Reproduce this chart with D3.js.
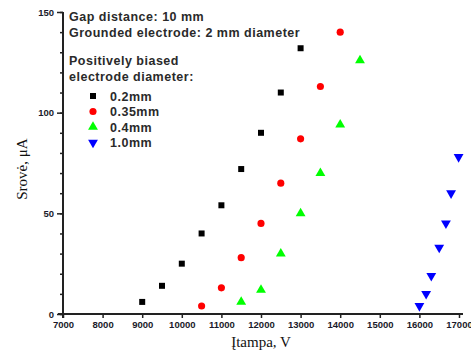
<!DOCTYPE html>
<html>
<head>
<meta charset="utf-8">
<script src="https://cdn.jsdelivr.net/npm/d3@7"></script>
<style>
  body { margin: 0; background: #fff; overflow: hidden; }
  svg { display: block; }
  .tick text { font-family: "Liberation Sans", Arial, sans-serif; font-size: 9.5px; font-weight: bold; fill: #1a1a2a; }
  .note { font-family: "Liberation Sans", Arial, sans-serif; font-size: 12.5px; font-weight: bold; letter-spacing: 0.5px; fill: #2a2a2a; }
  .title { font-family: "Liberation Serif", "Times New Roman", serif; font-size: 15px; fill: #111; }
</style>
</head>
<body>
<div class="chart"></div>
<script>
const width = 471;
const height = 356;

// voltage (V) and current (uA)
const v02 = [9000, 9500, 10000, 10500, 11000, 11500, 12000, 12500, 13000];
const i02 = [6, 14, 25, 40, 54, 72, 90, 110, 132];
const v035 = [10500, 11000, 11500, 12000, 12500, 13000, 13500, 14000];
const i035 = [4, 13, 28, 45, 65, 87, 113, 140];
const v04 = [11500, 12000, 12500, 13000, 13500, 14000, 14500];
const i04 = [6, 12, 30, 50, 70, 94, 126];
const v10 = [16000, 16170, 16300, 16500, 16670, 16800, 16990];
const i10 = [4, 10, 19, 33, 45, 60, 78];

const seriesNames = ["0.2mm", "0.35mm", "0.4mm", "1.0mm"];
const seriesColors = ["#000000", "#ff0000", "#00ff00", "#0000ff"];
const seriesSymbols = [d3.symbolSquare, d3.symbolCircle, d3.symbolTriangle, d3.symbolTriangle];

const xTicks = [7000, 8000, 9000, 10000, 11000, 12000, 13000, 14000, 15000, 16000, 17000];
const yTicks = [0, 50, 100, 150];
const yMinor = d3.range(0, 151, 10);

const noteLines = ["Gap distance: 10 mm", "Grounded electrode: 2 mm diameter"];
const legendTitle = ["Positively biased", "electrode diameter:"];

const margin = { top: 12, right: 12, bottom: 42, left: 63 };
const innerWidth = width - margin.left - margin.right;
const innerHeight = height - margin.top - margin.bottom;

const x = d3.scaleLinear().domain([7000, 17000]).range([0, innerWidth]);
const y = d3.scaleLinear().domain([0, 150]).range([innerHeight, 0]);

const svg = d3.select(".chart")
  .append("svg")
  .attr("width", width)
  .attr("height", height)
  .append("g")
  .attr("transform", `translate(${margin.left},${margin.top})`);

// minor y ticks
svg.append("g")
  .call(d3.axisLeft(y).tickValues(yMinor).tickSize(3).tickFormat(""))
  .call(g => g.select(".domain").remove())
  .call(g => g.selectAll("text").remove())
  .selectAll("line").attr("stroke", "#222").attr("stroke-width", 1.5);

const yAxis = svg.append("g")
  .call(d3.axisLeft(y).tickValues(yTicks).tickSize(6).tickSizeOuter(0).tickPadding(3));
yAxis.select(".domain").remove();
yAxis.selectAll("line").attr("stroke", "#222").attr("stroke-width", 1.5);

const xAxis = svg.append("g")
  .attr("transform", `translate(0,${innerHeight})`)
  .call(d3.axisBottom(x).tickValues(xTicks).tickSize(4).tickSizeOuter(0).tickFormat(d3.format("d")));
xAxis.select(".domain").remove();
xAxis.selectAll("line").attr("stroke", "#222").attr("stroke-width", 1.5);
xAxis.selectAll("text").attr("dy", null).attr("y", 14);

// axis lines
svg.append("line")
  .attr("x1", -5).attr("x2", innerWidth + 4)
  .attr("y1", y(0)).attr("y2", y(0))
  .attr("stroke", "#222").attr("stroke-width", 2);
svg.append("line")
  .attr("x1", x(7000)).attr("x2", x(7000))
  .attr("y1", y(150)).attr("y2", y(0) + 4)
  .attr("stroke", "#222").attr("stroke-width", 2);

const series = [
  { v: v02, i: i02 },
  { v: v035, i: i035 },
  { v: v04, i: i04 },
  { v: v10, i: i10 }
];
const symSize = [36, 40, 42, 42];

series.forEach((s, k) => {
  const sym = d3.symbol().type(seriesSymbols[k]).size(symSize[k]);
  svg.selectAll(".pt" + k)
    .data(s.v.map((v, j) => ({ v: v, i: s.i[j] })))
    .enter()
    .append("path")
    .attr("class", "pt" + k)
    .attr("d", sym)
    .attr("fill", seriesColors[k])
    .attr("transform", d => `translate(${x(d.v)},${y(d.i)})` + (k === 3 ? " rotate(180)" : ""));
});

// notes and legend
svg.selectAll(".noteline")
  .data(noteLines)
  .enter()
  .append("text")
  .attr("class", "note")
  .attr("x", 6)
  .attr("y", (d, i) => 9 + i * 16)
  .text(d => d);

svg.selectAll(".legtitle")
  .data(legendTitle)
  .enter()
  .append("text")
  .attr("class", "note")
  .attr("x", 6)
  .attr("y", (d, i) => 53 + i * 16)
  .text(d => d);

const legend = svg.selectAll(".legend")
  .data(seriesNames)
  .enter()
  .append("g")
  .attr("transform", (d, i) => `translate(30,${84 + i * 15.5})`);

legend.append("path")
  .attr("d", (d, i) => d3.symbol().type(seriesSymbols[i]).size(symSize[i])())
  .attr("fill", (d, i) => seriesColors[i])
  .attr("transform", (d, i) => i === 3 ? "rotate(180)" : null);

legend.append("text")
  .attr("class", "note")
  .attr("x", 17)
  .attr("y", 4.5)
  .text(d => d);

// axis titles
svg.append("text")
  .attr("class", "title")
  .attr("x", innerWidth / 2)
  .attr("y", innerHeight + 33)
  .attr("text-anchor", "middle")
  .text("Įtampa, V");

svg.append("text")
  .attr("class", "title")
  .attr("transform", `translate(-36,${y(72)}) rotate(-90)`)
  .attr("text-anchor", "middle")
  .text("Srovė, μA");
</script>
</body>
</html>
